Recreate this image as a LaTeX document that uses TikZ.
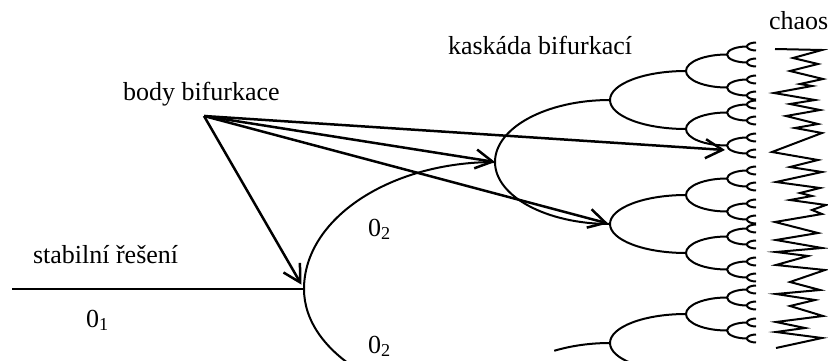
\documentclass[tikz,border=0pt]{standalone}
\usepackage{fontspec}
\setmainfont{Liberation Serif}
\usetikzlibrary{arrows.meta}
\begin{document}
\begin{tikzpicture}[x=1pt,y=-1pt,line width=2pt,
  lbl/.style={inner sep=0pt,anchor=base west,font=\fontsize{26}{30}\selectfont},
  arr/.style={line width=2.5pt,-{Straight Barb[length=17pt,width=19pt,line width=2.5pt]}}]
  \clip (0,0) rectangle (828,361);

  % 稳定解
  \draw (12,289) -- (304,289);
  \node[lbl] (stab) at (32,263) {stabilní řešení};
  \node[lbl] (o1) at (85,327) {0\textsubscript{1}};

  % 第一次分岔
  \draw (495,162) arc[start angle=270,end angle=180,x radius=191,y radius=127]
                  arc[start angle=180,end angle=90,x radius=191,y radius=116];
  \node[lbl] (o2a) at (367,236) {0\textsubscript{2}};
  \node[lbl] (o2b) at (367,353) {0\textsubscript{2}};

  % 分岔级联
  \draw (495,162) ++(115,62) arc[start angle=90,end angle=270,x radius=115,y radius=62];
  \draw ([shift={(241:115 and 62)}]610,405) arc[start angle=241,end angle=270,x radius=115,y radius=62];
  \foreach \y in {100,224,343}
    \draw (610,\y) ++(76,29) arc[start angle=90,end angle=270,x radius=76,y radius=29];
  \foreach \y in {71,129,195,253,314}{
    \draw (686,\y) ++(41,16.5) arc[start angle=90,end angle=270,x radius=41,y radius=16.5];
    \foreach \s in {-16.5,16.5}{
      \draw (727,{\y+\s}) ++(20,8) arc[start angle=90,end angle=270,x radius=20,y radius=8];
      \foreach \t in {-8,8}
        \draw (747,{\y+\s+\t}) ++(9,4) arc[start angle=90,end angle=270,x radius=9,y radius=4];
    }
  }
  \node[lbl] (kask) at (447,55) {kaskáda bifurkací};

  % 混沌
  \draw[line join=miter] (775,49) -- (822,50) -- (793,58) -- (818,64) -- (790,71) -- (823,79)
    -- (800,84) -- (812,86) -- (774,93) -- (815,100) -- (790,104) -- (820,110) -- (786,116)
    -- (818,124) -- (795,128) -- (822,133) -- (772,152) -- (818,160) -- (790,167) -- (822,172)
    -- (776,182) -- (820,188) -- (800,193) -- (812,196) -- (790,200) -- (826,205) -- (812,210)
    -- (822,214) -- (775,222) -- (818,233) -- (776,240) -- (822,248) -- (776,252) -- (808,256)
    -- (776,265) -- (825,270) -- (790,282) -- (820,290) -- (776,294) -- (815,300) -- (790,306)
    -- (823,316) -- (776,322) -- (805,328) -- (776,332) -- (822,338) -- (776,348);
  \node[lbl] (chaos) at (768,30) {chaos};

  % 分岔点
  \node[lbl] (body) at (122,100) {body bifurkace};
  \coordinate (apex) at (204,116);
  \coordinate (b1) at (304,289);
  \coordinate (b2) at (495,162);
  \coordinate (b3) at (610,224);
  \coordinate (b4) at (725,150);
  \draw[arr,shorten >=5pt] (apex) -- (b1);
  \draw[arr] (apex) -- (b2);
  \draw[arr,shorten >=2pt] (apex) -- (b3);
  \draw[arr] (apex) -- (b4);
\end{tikzpicture}
\end{document}
